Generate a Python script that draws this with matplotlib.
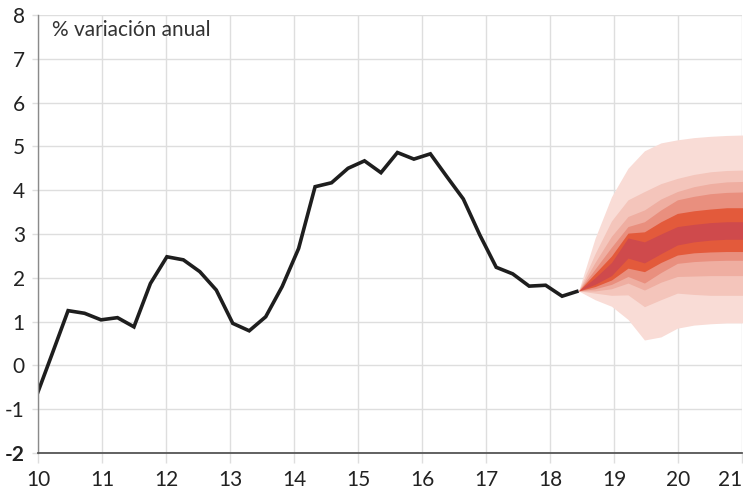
import numpy as np
import matplotlib
matplotlib.use("Agg")
from matplotlib import pyplot as plt

# historical series, quarterly (% variacion anual)
hist_vals = [-0.78, 0.23, 1.25, 1.19, 1.04, 1.09, 0.88, 1.87, 2.48, 2.41,
             2.14, 1.72, 0.96, 0.79, 1.11, 1.80, 2.67, 4.08, 4.17, 4.50,
             4.67, 4.40, 4.86, 4.71, 4.83, 4.31, 3.80, 2.98, 2.24, 2.09,
             1.81, 1.83, 1.58, 1.70]

# fan chart bands (upper / lower), from the outermost to the central one
fan_upper = [
    [1.70, 2.90, 3.85, 4.50, 4.90, 5.08, 5.15, 5.20, 5.23, 5.25, 5.26],
    [1.70, 2.55, 3.30, 3.78, 3.97, 4.15, 4.27, 4.36, 4.42, 4.45, 4.46],
    [1.70, 2.35, 2.95, 3.40, 3.55, 3.80, 3.97, 4.08, 4.15, 4.19, 4.20],
    [1.70, 2.20, 2.70, 3.17, 3.28, 3.55, 3.78, 3.86, 3.92, 3.95, 3.96],
    [1.70, 2.10, 2.50, 3.02, 3.05, 3.28, 3.47, 3.53, 3.57, 3.60, 3.60],
    [1.70, 2.00, 2.35, 2.91, 2.82, 3.00, 3.17, 3.22, 3.26, 3.28, 3.28],
]
fan_lower = [
    [1.70, 1.50, 1.35, 1.05, 0.58, 0.65, 0.85, 0.92, 0.95, 0.97, 0.97],
    [1.70, 1.65, 1.60, 1.61, 1.34, 1.50, 1.65, 1.62, 1.60, 1.60, 1.60],
    [1.70, 1.70, 1.75, 1.88, 1.72, 1.90, 2.03, 2.04, 2.05, 2.05, 2.05],
    [1.70, 1.75, 1.85, 2.03, 1.88, 2.12, 2.33, 2.37, 2.39, 2.40, 2.40],
    [1.70, 1.80, 1.95, 2.22, 2.14, 2.35, 2.52, 2.57, 2.59, 2.60, 2.60],
    [1.70, 1.85, 2.05, 2.45, 2.34, 2.55, 2.75, 2.82, 2.86, 2.88, 2.88],
]
fan_colors = ["#f9dcd6", "#f4c5bb", "#efaea1", "#e98f7e", "#e35a3b", "#cf4a4c"]

year_ticks = list(range(10, 22))
y_ticks = list(range(-2, 9))

# quarterly positions on the year axis
step = 0.2573
x_hist = 10.47 + step * (np.arange(len(hist_vals)) - 2)
x_fan = x_hist[-1] + step * np.arange(len(fan_upper[0]))

plt.rcParams['font.family'] = ['Lato', 'DejaVu Sans']

fig = plt.figure(figsize=(7.43, 4.93), dpi=100)
ax = fig.add_axes([38 / 743, 40 / 493, 704 / 743, 438 / 493])

for up, lo, col in zip(fan_upper, fan_lower, fan_colors):
    ax.fill_between(x_fan, lo, up, color=col, linewidth=0, zorder=2)

ax.plot(x_hist, hist_vals, color="#1e1e1e", lw=2.6, zorder=4,
        solid_joinstyle="miter", solid_capstyle="butt")

ax.set_xlim(10, 21)
ax.set_ylim(-2, 8)
ax.set_xticks(year_ticks)
ax.set_yticks(y_ticks)
ax.set_yticklabels([str(v) for v in y_ticks])
ax.grid(True, color="#dedede", lw=1, zorder=0)
ax.set_axisbelow(True)

for side in ["top", "right"]:
    ax.spines[side].set_visible(False)
ax.spines["left"].set_color("#8a8a8a")
ax.spines["left"].set_linewidth(1)
ax.spines["bottom"].set_color("#555555")
ax.spines["bottom"].set_linewidth(1.3)
ax.spines["left"].set_zorder(5)
ax.spines["bottom"].set_zorder(5)

ax.tick_params(axis="x", length=7.5, width=1, color="#dedede", labelsize=15,
               labelcolor="#222222", pad=5)
ax.tick_params(axis="y", length=4.5, width=1, color="#dedede", labelsize=15,
               labelcolor="#222222", pad=5)
ax.get_yticklabels()[0].set_fontweight("bold")
# last year label sits inside the figure edge
ax.get_xticklabels()[-1].set_horizontalalignment("right")

ax.text(0.02, 0.988, "% variación anual", transform=ax.transAxes,
        fontsize=15, color="#333333", va="top", ha="left")

fig.savefig("out.png", dpi=100)
